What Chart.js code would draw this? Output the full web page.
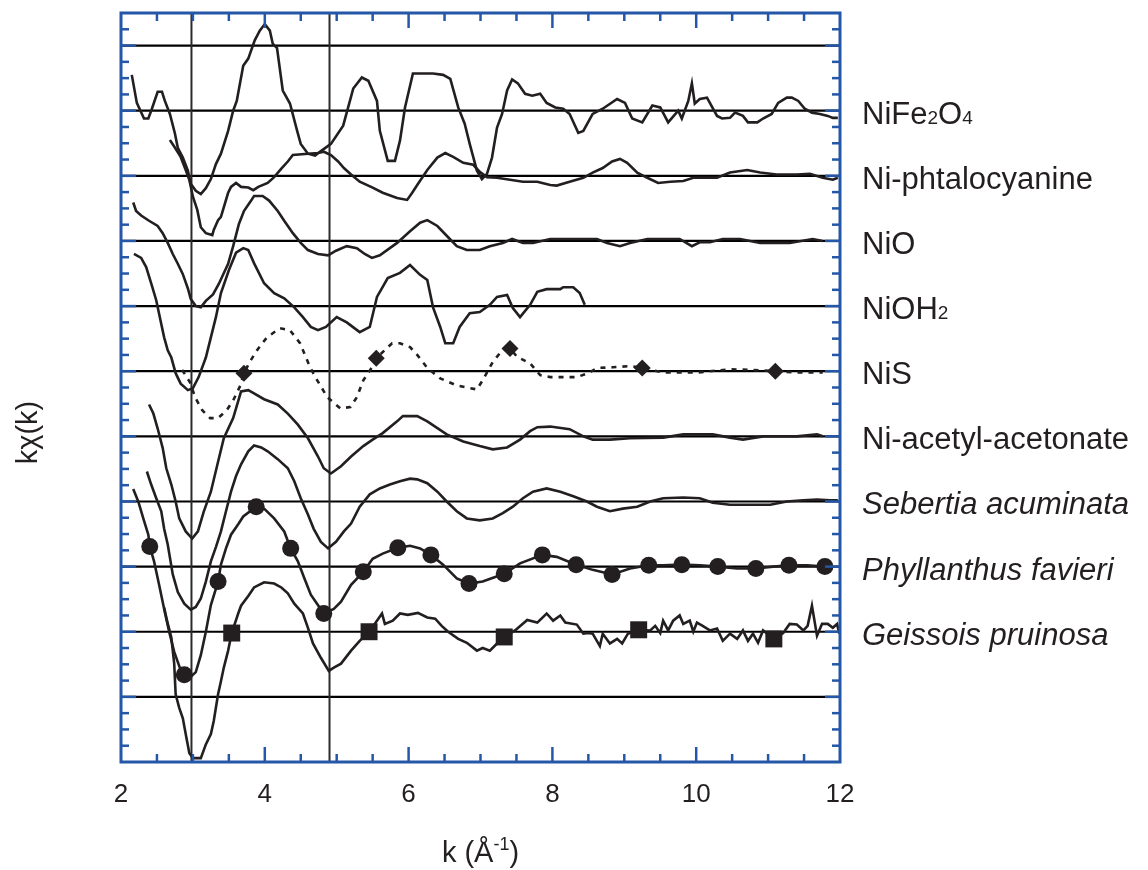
<!DOCTYPE html>
<html><head><meta charset="utf-8">
<script src="https://cdn.jsdelivr.net/npm/chart.js@4/dist/chart.umd.min.js"></script>
<style>html,body{margin:0;padding:0;background:#fff;}canvas{display:block;}</style>
</head><body>
<canvas id="c" width="1148" height="870"></canvas>
<script>
// ---- data (k in 1/Å, kχ(k) relative to each curve's own baseline; offsets stack the curves) ----
const seriesLabels = ['NiFe2O4','Ni-phtalocyanine','NiO','NiOH2','NiS','Ni-acetyl-acetonate','Sebertia acuminata','Phyllanthus favieri','Geissois pruinosa'];
const seriesItalic = [false,false,false,false,false,false,true,true,true];
const seriesOffsets = [9,8,7,6,5,4,3,2,1];
const baselineLevels = [0,1,2,3,4,5,6,7,8,9,10];
const xTickLabels = [2,4,6,8,10,12];
const refLinesK = [2.98,4.90];

const nife2o4 = [[2.15,0.55],[2.22,0.12],[2.32,-0.12],[2.38,-0.12],[2.43,0.03],[2.51,0.29],[2.57,0.29],[2.61,0.15],[2.68,-0.05],[2.75,-0.35],[2.79,-0.57],[2.86,-0.72],[2.93,-0.92],[2.97,-1.12],[3.04,-1.23],[3.11,-1.28],[3.18,-1.19],[3.25,-1.05],[3.32,-0.82],[3.39,-0.66],[3.49,-0.31],[3.56,0],[3.61,0.15],[3.70,0.69],[3.77,0.80],[3.86,1.08],[3.93,1.23],[4.00,1.33],[4.07,1.23],[4.11,1.03],[4.17,0.96],[4.25,0.31],[4.35,0.11],[4.45,-0.31],[4.50,-0.51],[4.60,-0.66],[4.70,-0.69],[4.78,-0.62],[4.92,-0.51],[5.09,-0.23],[5.23,0.34],[5.35,0.51],[5.44,0.46],[5.56,0.15],[5.60,-0.31],[5.71,-0.77],[5.81,-0.77],[5.88,-0.46],[5.95,0.05],[6.06,0.57],[6.34,0.57],[6.48,0.55],[6.58,0.49],[6.69,0.05],[6.78,-0.20],[6.85,-0.51],[6.95,-0.92],[7.02,-1.05],[7.09,-0.97],[7.16,-0.72],[7.23,-0.26],[7.30,-0.05],[7.37,0.31],[7.44,0.48],[7.52,0.42],[7.62,0.26],[7.72,0.23],[7.83,0.26],[7.92,0.12],[8.04,0.05],[8.15,0.03],[8.24,-0.05],[8.36,-0.34],[8.43,-0.31],[8.56,-0.05],[8.70,0.03],[8.90,0.18],[9.01,0.12],[9.11,-0.12],[9.25,-0.18],[9.39,0.08],[9.50,0.05],[9.61,-0.18],[9.75,0],[9.80,-0.12],[9.89,0.15],[9.94,0.42],[9.98,0.11],[10.05,0.18],[10.15,0.20],[10.29,-0.08],[10.36,-0.12],[10.47,-0.11],[10.54,-0.03],[10.65,-0.08],[10.72,-0.18],[10.85,-0.18],[10.93,-0.12],[11.05,-0.05],[11.14,0.12],[11.26,0.20],[11.33,0.20],[11.42,0.15],[11.51,0.03],[11.61,-0.03],[11.72,-0.05],[11.83,-0.08],[11.90,-0.11],[11.97,-0.11]];

const phthalocyanine = [[2.68,0.55],[2.74,0.45],[2.83,0.29],[2.90,0.09],[2.95,-0.06],[3.00,-0.32],[3.06,-0.52],[3.11,-0.79],[3.18,-0.88],[3.27,-0.91],[3.29,-0.83],[3.35,-0.68],[3.39,-0.63],[3.49,-0.26],[3.53,-0.17],[3.60,-0.11],[3.67,-0.17],[3.77,-0.18],[3.84,-0.22],[3.91,-0.17],[4.04,-0.11],[4.13,-0.02],[4.23,0.11],[4.32,0.22],[4.39,0.32],[4.60,0.34],[4.74,0.35],[4.82,0.37],[4.92,0.32],[5.02,0.22],[5.10,0.12],[5.20,0.02],[5.32,-0.09],[5.50,-0.18],[5.64,-0.26],[5.84,-0.34],[5.98,-0.37],[6.05,-0.26],[6.12,-0.14],[6.26,0.09],[6.40,0.28],[6.51,0.35],[6.62,0.29],[6.76,0.20],[6.90,0.17],[6.99,0.06],[7.09,-0.02],[7.23,-0.03],[7.41,-0.06],[7.59,-0.09],[7.79,-0.09],[7.97,-0.14],[8.06,-0.15],[8.24,-0.09],[8.43,-0.03],[8.56,0.05],[8.70,0.12],[8.83,0.22],[8.94,0.26],[9.04,0.20],[9.18,0.05],[9.32,-0.03],[9.47,-0.11],[9.64,-0.09],[9.82,-0.08],[9.96,-0.03],[10.29,-0.03],[10.47,0.05],[10.71,0.09],[10.89,0.05],[11.12,0.02],[11.40,0.02],[11.58,0.03],[11.76,-0.03],[11.90,-0.06],[11.97,-0.03]];

const nio = [[2.17,0.59],[2.21,0.46],[2.28,0.39],[2.39,0.31],[2.51,0.23],[2.58,0.12],[2.65,-0.03],[2.72,-0.20],[2.79,-0.35],[2.86,-0.51],[2.93,-0.73],[2.97,-0.89],[3.04,-1.00],[3.11,-1.02],[3.18,-0.92],[3.28,-0.82],[3.36,-0.66],[3.49,-0.35],[3.56,-0.08],[3.64,0.26],[3.71,0.46],[3.81,0.62],[3.85,0.69],[3.97,0.69],[4.06,0.62],[4.18,0.46],[4.27,0.31],[4.39,0.12],[4.50,-0.03],[4.60,-0.14],[4.74,-0.20],[4.88,-0.22],[4.99,-0.15],[5.14,-0.08],[5.28,-0.11],[5.39,-0.20],[5.49,-0.26],[5.60,-0.22],[5.84,-0.03],[6.02,0.15],[6.16,0.28],[6.26,0.32],[6.40,0.23],[6.53,0.08],[6.67,-0.08],[6.81,-0.14],[6.99,-0.14],[7.13,-0.08],[7.31,-0.03],[7.44,0.03],[7.59,-0.03],[7.73,-0.03],[7.97,0.03],[8.34,0.03],[8.62,0.03],[8.76,-0.03],[8.94,-0.08],[9.08,-0.03],[9.32,0.03],[9.77,0.03],[9.94,-0.08],[10.05,-0.02],[10.19,-0.02],[10.37,0.03],[10.61,0.03],[10.89,-0.03],[11.30,-0.03],[11.62,0.03],[11.76,0]];

const nioh2 = [[2.18,0.80],[2.28,0.74],[2.35,0.60],[2.42,0.35],[2.49,0.09],[2.54,-0.17],[2.60,-0.48],[2.65,-0.68],[2.70,-0.79],[2.76,-1.03],[2.83,-1.19],[2.93,-1.29],[3.00,-1.26],[3.08,-1.09],[3.18,-0.79],[3.25,-0.48],[3.32,-0.17],[3.39,0.20],[3.50,0.55],[3.60,0.82],[3.70,0.89],[3.77,0.86],[3.85,0.66],[3.99,0.35],[4.13,0.20],[4.27,0.12],[4.41,-0.02],[4.53,-0.17],[4.64,-0.32],[4.74,-0.37],[4.85,-0.32],[5.00,-0.17],[5.14,-0.25],[5.32,-0.40],[5.46,-0.32],[5.56,0.14],[5.71,0.43],[5.88,0.51],[6.02,0.63],[6.16,0.48],[6.26,0.40],[6.34,-0.02],[6.44,-0.32],[6.51,-0.57],[6.62,-0.57],[6.71,-0.32],[6.85,-0.11],[6.99,-0.09],[7.13,0.02],[7.23,0.14],[7.37,0.17],[7.45,-0.03],[7.55,-0.17],[7.69,0.02],[7.79,0.22],[7.92,0.26],[8.11,0.26],[8.15,0.29],[8.29,0.29],[8.38,0.20],[8.45,0.02]];

const nis = [[2.85,0.02],[2.96,-0.17],[3.03,-0.40],[3.13,-0.60],[3.24,-0.72],[3.35,-0.72],[3.47,-0.60],[3.56,-0.45],[3.66,-0.22],[3.71,-0.03],[3.79,0.14],[3.89,0.32],[4.03,0.52],[4.21,0.66],[4.35,0.63],[4.49,0.43],[4.63,0.06],[4.73,-0.14],[4.87,-0.40],[5.05,-0.57],[5.19,-0.55],[5.28,-0.40],[5.37,-0.14],[5.49,0.06],[5.55,0.20],[5.77,0.43],[5.88,0.43],[6.02,0.37],[6.12,0.25],[6.26,0.05],[6.44,-0.11],[6.67,-0.22],[6.95,-0.28],[7.03,-0.14],[7.17,0.14],[7.30,0.32],[7.41,0.35],[7.51,0.22],[7.69,0.12],[7.83,-0.06],[7.97,-0.09],[8.15,-0.09],[8.34,-0.09],[8.50,-0.03],[8.62,0.05],[8.84,0.06],[9.08,0.08],[9.25,0.05],[9.54,-0.02],[10.01,-0.02],[10.47,0.03],[10.75,0.02],[11.10,0],[11.40,-0.02],[11.76,-0.02]];

const acac = [[2.39,0.49],[2.45,0.35],[2.51,0.12],[2.58,-0.18],[2.63,-0.49],[2.70,-0.74],[2.76,-1.00],[2.81,-1.26],[2.90,-1.46],[2.99,-1.57],[3.07,-1.46],[3.15,-1.16],[3.25,-0.85],[3.35,-0.39],[3.43,-0.03],[3.56,0.28],[3.60,0.43],[3.67,0.69],[3.77,0.71],[3.85,0.66],[3.99,0.57],[4.18,0.49],[4.32,0.35],[4.46,0.18],[4.60,-0.03],[4.74,-0.31],[4.82,-0.49],[4.92,-0.57],[5.06,-0.46],[5.20,-0.31],[5.37,-0.15],[5.50,-0.05],[5.64,0.05],[5.84,0.23],[5.92,0.31],[6.12,0.31],[6.26,0.23],[6.53,0.03],[6.76,-0.08],[6.99,-0.15],[7.17,-0.20],[7.37,-0.17],[7.55,-0.05],[7.69,0.08],[7.79,0.14],[7.97,0.15],[8.24,0.11],[8.43,0],[8.56,-0.05],[8.80,-0.05],[9.08,-0.03],[9.54,-0.02],[9.82,0.03],[10.23,0.03],[10.47,-0.02],[10.65,-0.05],[10.93,0],[11.40,0],[11.68,0.03],[11.76,0]];

const sebertia = [[2.36,0.46],[2.42,0.26],[2.49,0.05],[2.56,-0.15],[2.60,-0.42],[2.65,-0.66],[2.72,-1.12],[2.79,-1.39],[2.88,-1.57],[2.97,-1.66],[3.04,-1.62],[3.11,-1.49],[3.18,-1.23],[3.25,-0.92],[3.32,-0.70],[3.39,-0.46],[3.46,-0.15],[3.53,0.15],[3.60,0.39],[3.67,0.57],[3.77,0.77],[3.85,0.86],[3.95,0.83],[4.04,0.77],[4.18,0.65],[4.32,0.51],[4.41,0.31],[4.50,0.05],[4.60,-0.20],[4.68,-0.42],[4.78,-0.62],[4.88,-0.72],[4.99,-0.62],[5.10,-0.46],[5.20,-0.34],[5.32,-0.08],[5.46,0.11],[5.60,0.20],[5.74,0.26],[5.88,0.31],[6.02,0.35],[6.12,0.34],[6.26,0.28],[6.40,0.15],[6.53,0],[6.67,-0.15],[6.81,-0.26],[6.99,-0.29],[7.17,-0.26],[7.31,-0.18],[7.45,-0.08],[7.59,0.05],[7.73,0.15],[7.92,0.20],[8.11,0.15],[8.29,0.08],[8.48,0],[8.62,-0.08],[8.80,-0.15],[8.98,-0.11],[9.18,-0.08],[9.36,0],[9.54,0.05],[9.82,0.06],[10.05,0.05],[10.23,-0.02],[10.47,-0.05],[10.75,-0.05],[11.03,-0.05],[11.26,0],[11.49,0.02],[11.68,0.03],[11.86,0.02],[11.97,0.02]];

const phyllanthus = [[2.17,1.19],[2.24,1.00],[2.31,0.74],[2.38,0.49],[2.40,0.31],[2.46,0.08],[2.53,-0.28],[2.60,-0.65],[2.67,-1.00],[2.74,-1.31],[2.83,-1.59],[2.88,-1.66],[2.97,-1.69],[3.04,-1.62],[3.11,-1.36],[3.18,-1.00],[3.25,-0.59],[3.35,-0.23],[3.39,0.03],[3.46,0.28],[3.53,0.49],[3.63,0.65],[3.70,0.77],[3.88,0.92],[3.99,0.89],[4.13,0.74],[4.27,0.54],[4.36,0.28],[4.46,0.08],[4.55,-0.18],[4.64,-0.43],[4.82,-0.72],[4.96,-0.65],[5.06,-0.54],[5.20,-0.28],[5.37,-0.08],[5.50,0.12],[5.64,0.20],[5.85,0.29],[6.02,0.32],[6.16,0.28],[6.31,0.18],[6.48,0.03],[6.67,-0.18],[6.84,-0.26],[7.03,-0.23],[7.33,-0.11],[7.55,0.05],[7.86,0.18],[8.06,0.15],[8.33,0.03],[8.56,-0.05],[8.83,-0.12],[9.08,-0.03],[9.34,0.02],[9.54,0.02],[9.80,0.03],[10.05,0.02],[10.30,0],[10.57,-0.03],[10.83,-0.03],[11.07,0],[11.29,0.02],[11.54,0.02],[11.79,0]];

const geissois = [[2.60,0.37],[2.64,0.17],[2.70,-0.09],[2.74,-0.49],[2.76,-0.96],[2.81,-1.17],[2.86,-1.33],[2.90,-1.57],[2.95,-1.86],[3.00,-1.94],[3.11,-1.94],[3.18,-1.73],[3.25,-1.57],[3.29,-1.37],[3.35,-0.96],[3.39,-0.76],[3.43,-0.55],[3.49,-0.29],[3.54,-0.02],[3.63,0.28],[3.67,0.40],[3.77,0.55],[3.85,0.68],[3.99,0.76],[4.13,0.74],[4.23,0.68],[4.32,0.59],[4.41,0.43],[4.53,0.28],[4.60,0.06],[4.67,-0.18],[4.78,-0.40],[4.89,-0.60],[4.96,-0.55],[5.06,-0.49],[5.20,-0.29],[5.32,-0.14],[5.45,0],[5.56,0.17],[5.63,0.28],[5.67,0.12],[5.78,0.17],[5.88,0.28],[5.99,0.26],[6.13,0.29],[6.26,0.22],[6.37,0.20],[6.46,0.09],[6.55,0],[6.69,-0.11],[6.81,-0.17],[6.95,-0.29],[7.03,-0.25],[7.13,-0.29],[7.23,-0.18],[7.33,-0.08],[7.48,0.02],[7.65,0.18],[7.79,0.14],[7.92,0.28],[8.01,0.17],[8.11,0.25],[8.18,0.14],[8.34,0.11],[8.43,-0.03],[8.50,-0.02],[8.56,-0.03],[8.66,-0.22],[8.70,-0.03],[8.80,-0.18],[8.90,-0.11],[8.97,-0.18],[9.05,-0.03],[9.20,0.03],[9.36,0.02],[9.43,0.09],[9.50,-0.02],[9.54,0.17],[9.61,0.02],[9.68,0.17],[9.77,0.25],[9.82,0.12],[9.91,0.17],[9.96,0],[10.01,0.14],[10.09,0.09],[10.19,0.02],[10.29,0.05],[10.37,-0.14],[10.47,-0.03],[10.57,-0.11],[10.65,0.02],[10.72,-0.14],[10.79,-0.03],[10.86,-0.17],[10.93,0.02],[11.08,-0.11],[11.21,-0.02],[11.30,0.12],[11.40,0.11],[11.49,0.02],[11.55,0.09],[11.61,0.40],[11.68,-0.06],[11.75,0.12],[11.83,0.12],[11.90,0.06],[11.96,0.12],[11.99,-0.03]];

// marker positions (same scale as curves)
const nisMarkers = [[3.71,-0.03],[5.55,0.20],[7.41,0.35],[9.25,0.05],[11.10,0]];
const phyllanthusMarkers = [[2.40,0.31],[2.88,-1.66],[3.35,-0.23],[3.88,0.92],[4.36,0.28],[4.82,-0.72],[5.37,-0.08],[5.85,0.29],[6.31,0.18],[6.84,-0.26],[7.33,-0.11],[7.86,0.18],[8.33,0.03],[8.83,-0.12],[9.34,0.02],[9.80,0.03],[10.30,0],[10.83,-0.03],[11.29,0.02],[11.79,0]];
const geissoisMarkers = [[3.54,-0.02],[5.45,0],[7.33,-0.08],[9.20,0.03],[11.08,-0.11]];

// ---- styling ----
const ink = '#231f20';
const frameBlue = '#2457a7';
const fontFam = '"Liberation Sans", Arial, Helvetica, sans-serif';

const curves = [nife2o4, phthalocyanine, nio, nioh2, nis, acac, sebertia, phyllanthus, geissois];
const toXY = (pts, off) => pts.map(([k, v]) => ({x: k, y: v + off}));

const datasets = [];
datasets.push({label:'NiS markers', data: toXY(nisMarkers, seriesOffsets[4]), showLine:false, pointStyle:'rectRot', pointRadius:8.5, backgroundColor:ink, borderColor:ink, borderWidth:0, order:0});
datasets.push({label:'Phyllanthus markers', data: toXY(phyllanthusMarkers, seriesOffsets[7]), showLine:false, pointStyle:'circle', pointRadius:8.5, backgroundColor:ink, borderColor:ink, borderWidth:0, order:0});
datasets.push({label:'Geissois markers', data: toXY(geissoisMarkers, seriesOffsets[8]), showLine:false, pointStyle:'rect', pointRadius:12, backgroundColor:ink, borderColor:ink, borderWidth:0, order:0});
curves.forEach((pts, i) => {
  datasets.push({
    label: seriesLabels[i], data: toXY(pts, seriesOffsets[i]), showLine: true,
    borderColor: ink, borderWidth: 2.6, pointRadius: 0, tension: 0, fill: false,
    borderDash: i === 4 ? [5, 6] : [], order: 1
  });
});

const decor = {
  id: 'decor',
  beforeDatasetsDraw(chart) {
    const {ctx, chartArea: a, scales: {x, y}} = chart;
    ctx.save();
    ctx.beginPath(); ctx.rect(a.left, a.top, a.right - a.left, a.bottom - a.top); ctx.clip();
    ctx.strokeStyle = '#000'; ctx.lineWidth = 2.2;
    baselineLevels.forEach(v => {
      const py = y.getPixelForValue(v);
      ctx.beginPath(); ctx.moveTo(a.left, py); ctx.lineTo(a.right, py); ctx.stroke();
    });
    ctx.strokeStyle = '#2b2b2b'; ctx.lineWidth = 2;
    refLinesK.forEach(k => {
      const px = x.getPixelForValue(k);
      ctx.beginPath(); ctx.moveTo(px, a.top); ctx.lineTo(px, a.bottom); ctx.stroke();
    });
    ctx.restore();
  },
  afterDatasetsDraw(chart) {
    const {ctx, chartArea: a, scales: {x, y}} = chart;
    ctx.save();
    ctx.strokeStyle = frameBlue; ctx.lineWidth = 2.5;
    // y ticks (minor 0.25, major at baselines)
    for (let i = -3; i <= 41; i++) {
      const v = i / 4; const py = y.getPixelForValue(v);
      const len = (i % 4 === 0 && baselineLevels.includes(v)) ? 15 : 8;
      ctx.beginPath(); ctx.moveTo(a.left, py); ctx.lineTo(a.left + len, py); ctx.stroke();
      ctx.beginPath(); ctx.moveTo(a.right, py); ctx.lineTo(a.right - len, py); ctx.stroke();
    }
    // x ticks (minor 0.5, major 2)
    for (let i = 5; i <= 23; i++) {
      const k = i / 2; const px = x.getPixelForValue(k);
      const len = (k % 2 === 0) ? 15 : 8;
      ctx.beginPath(); ctx.moveTo(px, a.bottom); ctx.lineTo(px, a.bottom - len); ctx.stroke();
      ctx.beginPath(); ctx.moveTo(px, a.top); ctx.lineTo(px, a.top + len); ctx.stroke();
    }
    ctx.lineWidth = 3;
    ctx.strokeRect(a.left, a.top, a.right - a.left, a.bottom - a.top);
    ctx.restore();
  },
  afterDraw(chart) {
    const {ctx, chartArea: a, scales: {x, y}} = chart;
    ctx.save();
    ctx.fillStyle = ink;
    // x tick labels
    ctx.font = '26px ' + fontFam; ctx.textAlign = 'center'; ctx.textBaseline = 'alphabetic';
    xTickLabels.forEach(k => ctx.fillText(String(k), x.getPixelForValue(k), a.bottom + 40));
    // x title  k (Å-1)
    ctx.textAlign = 'left';
    const big = '29px ' + fontFam, sup = '18px ' + fontFam;
    const pieces = [['k (Å', big, 0], ['-1', sup, -12], [')', big, 0]];
    let w = 0;
    pieces.forEach(([t, f]) => { ctx.font = f; w += ctx.measureText(t).width; });
    let cx = (a.left + a.right) / 2 - w / 2;
    pieces.forEach(([t, f, dy]) => { ctx.font = f; ctx.fillText(t, cx, 862 + dy); cx += ctx.measureText(t).width; });
    // y title
    ctx.save();
    ctx.translate(37, (a.top + a.bottom) / 2 + 45);
    ctx.rotate(-Math.PI / 2);
    ctx.font = '29px ' + fontFam; ctx.textAlign = 'center';
    ctx.fillText('kχ(k)', 0, 0);
    ctx.restore();
    // series labels
    seriesLabels.forEach((lab, i) => {
      const py = y.getPixelForValue(seriesOffsets[i]) + 13;
      let lx = 862;
      const italic = seriesItalic[i];
      const parts = italic ? [lab] : lab.split(/(\d)/).filter(s => s);
      parts.forEach(p => {
        const isSub = !italic && /^\d$/.test(p);
        ctx.font = (italic ? 'italic ' : '') + (isSub ? '19px ' : '31px ') + fontFam;
        ctx.fillText(p, lx, py);
        lx += ctx.measureText(p).width;
      });
    });
    ctx.restore();
  }
};

new Chart(document.getElementById('c'), {
  type: 'scatter',
  data: { datasets },
  options: {
    responsive: false, animation: false, events: [],
    layout: { padding: { left: 121, right: 308, top: 13, bottom: 108 } },
    scales: {
      x: { type: 'linear', min: 2, max: 12, display: false },
      y: { type: 'linear', min: -1, max: 10.5, display: false }
    },
    plugins: { legend: { display: false }, tooltip: { enabled: false } }
  },
  plugins: [decor]
});
</script>
</body></html>
